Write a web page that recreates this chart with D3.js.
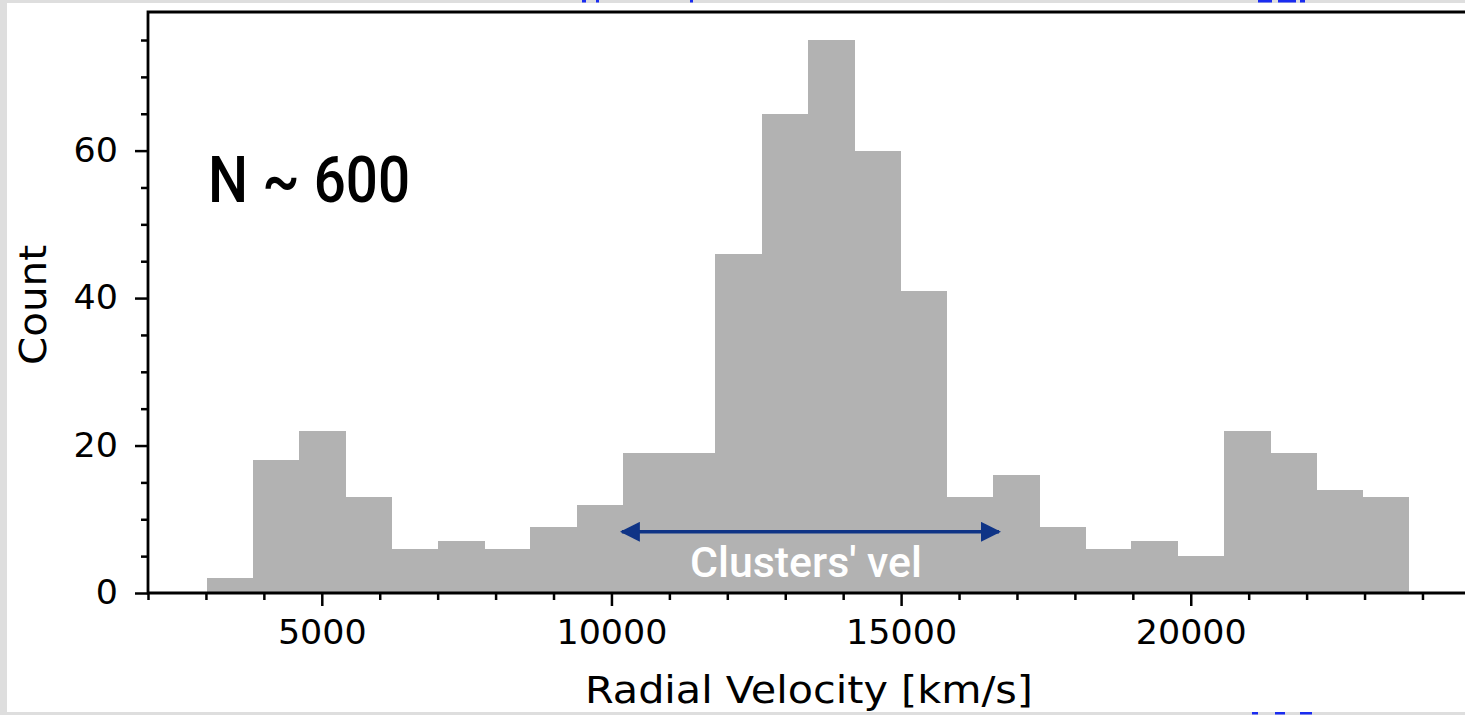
<!DOCTYPE html>
<html>
<head>
<meta charset="utf-8">
<script src="https://cdn.jsdelivr.net/npm/d3@7"></script>
<style>
  body { margin: 0; background: #dedede; }
  svg { display: block; }
  .mpl { font-family: "DejaVu Sans", Verdana, sans-serif; }
</style>
</head>
<body>
<svg id="chart"></svg>
<script>
// Histogram data
const binEdges = [3014, 3812, 4610, 5409, 6207, 7005, 7803, 8601, 9399, 10197, 10996, 11794, 12592,
                  13390, 14188, 14986, 15785, 16583, 17381, 18179, 18977, 19775, 20574, 21372, 22170, 22968, 23766];
const counts = [2, 18, 22, 13, 6, 7, 6, 9, 12, 19, 19, 46, 65, 75, 60, 41, 13, 16, 9, 6, 7, 5, 22, 19, 14, 13];
const xTickLabels = [5000, 10000, 15000, 20000];
const xMinorTicks = [2000, 3000, 4000, 6000, 7000, 8000, 9000, 11000, 12000, 13000, 14000,
                     16000, 17000, 18000, 19000, 21000, 22000, 23000, 24000];
const yTickLabels = [0, 20, 40, 60];
const yMinorTicks = [5, 10, 15, 25, 30, 35, 45, 50, 55, 65, 70, 75];
const clusterRange = [10180, 16690];
const clusterY = 8.3;

const width = 1465;
const height = 715;
const digitWidth = 22.2; // matplotlib DejaVu digit advance at this size

const svg = d3.select("#chart")
    .attr("width", width)
    .attr("height", height);

// white page on grey frame
svg.append("rect")
    .attr("x", 0).attr("y", 0)
    .attr("width", width).attr("height", height)
    .attr("fill", "#dedede");
svg.append("rect")
    .attr("x", 7).attr("y", 3)
    .attr("width", width - 7).attr("height", 709)
    .attr("fill", "#ffffff");

// some stray blue bits from the slide behind
const blueBits = [[582, 0, 4], [596, 0, 3], [690, 0, 3], [1258, 0, 14], [1278, 0, 18], [1300, 0, 5],
                  [1252, 712, 6], [1275, 712, 10], [1300, 712, 12]];
svg.selectAll(".bit")
    .data(blueBits)
    .enter().append("rect")
    .attr("x", d => d[0]).attr("y", d => d[1])
    .attr("width", d => d[2]).attr("height", 2.5)
    .attr("fill", "#1a2cf0");

// Scales
const x = d3.scaleLinear().domain([2000, 24734]).range([148, 1465]);
const y = d3.scaleLinear().domain([0, 78.8]).range([593, 12]);

// Bars
const bins = counts.map((c, i) => ({ x0: binEdges[i], x1: binEdges[i + 1], count: c }));
svg.append("g")
    .attr("shape-rendering", "crispEdges")
    .selectAll(".bar")
    .data(bins)
    .enter().append("rect")
    .attr("class", "bar")
    .attr("x", d => x(d.x0))
    .attr("y", d => y(d.count))
    .attr("width", d => x(d.x1) - x(d.x0) + 0.5)
    .attr("height", d => y(0) - y(d.count))
    .attr("fill", "#b2b2b2");

// Axes
const xAxis = d3.axisBottom(x)
    .tickValues(xTickLabels)
    .tickSize(13)
    .tickPadding(14)
    .tickFormat(d3.format("d"));
const gx = svg.append("g")
    .attr("transform", `translate(0, ${y(0)})`)
    .call(xAxis);
gx.attr("font-family", null).attr("font-size", null).attr("class", "mpl");
gx.selectAll(".tick line").attr("stroke-width", 2.5);
gx.selectAll(".tick text")
    .attr("font-size", 34).attr("fill", "#000")
    .attr("textLength", d => String(d).length * digitWidth)
    .attr("lengthAdjust", "spacingAndGlyphs");
gx.select(".domain").remove();

const xMinor = d3.axisBottom(x).tickValues(xMinorTicks).tickSize(7).tickFormat("");
const gxm = svg.append("g")
    .attr("transform", `translate(0, ${y(0)})`)
    .call(xMinor);
gxm.selectAll(".tick line").attr("stroke-width", 2.5);
gxm.select(".domain").remove();

const yAxis = d3.axisLeft(y)
    .tickValues(yTickLabels)
    .tickSize(13)
    .tickPadding(17);
const gy = svg.append("g")
    .attr("transform", `translate(${x(2000)}, 0)`)
    .call(yAxis);
gy.attr("font-family", null).attr("font-size", null).attr("class", "mpl");
gy.selectAll(".tick line").attr("stroke-width", 2.5);
gy.selectAll(".tick text")
    .attr("font-size", 34).attr("fill", "#000")
    .attr("textLength", d => String(d).length * digitWidth)
    .attr("lengthAdjust", "spacingAndGlyphs");
gy.select(".domain").remove();

const yMinor = d3.axisLeft(y).tickValues(yMinorTicks).tickSize(7).tickFormat("");
const gym = svg.append("g")
    .attr("transform", `translate(${x(2000)}, 0)`)
    .call(yMinor);
gym.selectAll(".tick line").attr("stroke-width", 2.5);
gym.select(".domain").remove();

// Spines
svg.append("path")
    .attr("d", `M${width},${y(78.8)}H${x(2000)}V${y(0)}H${width}`)
    .attr("fill", "none")
    .attr("stroke", "#000")
    .attr("stroke-width", 2.8);

// Axis labels
svg.append("text")
    .attr("class", "mpl")
    .attr("x", 809)
    .attr("y", 703)
    .attr("text-anchor", "middle")
    .attr("font-size", 37)
    .attr("textLength", 448)
    .attr("lengthAdjust", "spacingAndGlyphs")
    .text("Radial Velocity [km/s]");

svg.append("text")
    .attr("class", "mpl")
    .attr("transform", `translate(46, 305) rotate(-90)`)
    .attr("text-anchor", "middle")
    .attr("font-size", 37)
    .attr("textLength", 120)
    .attr("lengthAdjust", "spacingAndGlyphs")
    .text("Count");

// N ~ 600 annotation
svg.append("text")
    .attr("x", 208)
    .attr("y", 202)
    .attr("font-family", "Roboto, sans-serif")
    .attr("font-weight", 500)
    .attr("font-size", 64)
    .attr("textLength", 202)
    .attr("lengthAdjust", "spacingAndGlyphs")
    .text("N ~ 600");

// Clusters' velocity arrow
const navy = "#0f3486";
const defs = svg.append("defs");
defs.append("marker")
    .attr("id", "head")
    .attr("viewBox", "0 0 20 20")
    .attr("refX", 18).attr("refY", 10)
    .attr("markerWidth", 20).attr("markerHeight", 20)
    .attr("markerUnits", "userSpaceOnUse")
    .attr("orient", "auto-start-reverse")
    .append("path")
    .attr("d", "M0,0L20,10L0,20Z")
    .attr("fill", navy);

svg.append("line")
    .attr("x1", x(clusterRange[0])).attr("x2", x(clusterRange[1]))
    .attr("y1", y(clusterY)).attr("y2", y(clusterY))
    .attr("stroke", navy)
    .attr("stroke-width", 3.5)
    .attr("marker-start", "url(#head)")
    .attr("marker-end", "url(#head)");

svg.append("text")
    .attr("x", 806)
    .attr("y", 577)
    .attr("text-anchor", "middle")
    .attr("font-family", "Roboto, sans-serif")
    .attr("font-weight", 500)
    .attr("font-size", 42)
    .attr("textLength", 232)
    .attr("lengthAdjust", "spacingAndGlyphs")
    .attr("fill", "#ffffff")
    .text("Clusters' vel");
</script>
</body>
</html>
